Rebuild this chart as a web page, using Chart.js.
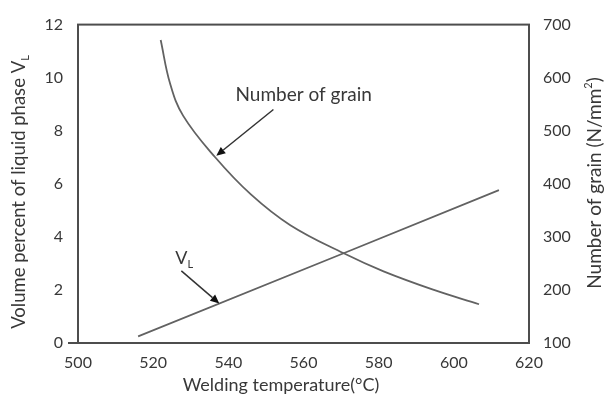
<!DOCTYPE html>
<html>
<head>
<meta charset="utf-8">
<script src="https://cdn.jsdelivr.net/npm/chart.js@4/dist/chart.umd.min.js"></script>
<style>
  html, body { margin: 0; padding: 0; background: #fff; }
  #wrap { width: 606px; height: 400px; }
</style>
</head>
<body>
<div id="wrap"><canvas id="chart" width="606" height="400"></canvas></div>
<script>
// Data
const vlTemps = [516, 571, 612];
const vlValues = [0.25, 3.4, 5.76];

const grainTemps = [522, 524.5, 528, 536.5, 546, 556.5, 570.7, 581.3, 594.7, 606.7];
const grainValues = [671, 589, 528, 450, 380, 322, 269, 235, 200, 173];

const xTicks = [500, 520, 540, 560, 580, 600, 620];
const leftTicks = [0, 2, 4, 6, 8, 10, 12];
const rightTicks = [100, 200, 300, 400, 500, 600, 700];

const textColor = '#383838';
const lineColor = '#626262';
const fontFamily = 'Lato, "Open Sans", sans-serif';

function toPoints(xs, ys) {
    return xs.map((x, i) => ({ x: x, y: ys[i] }));
}

// Arrow callouts, in data units (x = temperature, y on the named axis)
const callouts = [
    { axis: 'y2', text: 'Number of grain', size: 19, textX: 541.9, textY: 568, from: [552, 540], to: [536.8, 453] },
    { axis: 'y', text: 'V', sub: 'L', size: 18, textX: 525.9, textY: 3.19, from: [527.5, 2.72], to: [537.6, 1.49] }
];

function drawArrow(ctx, x1, y1, x2, y2) {
    const ang = Math.atan2(y2 - y1, x2 - x1);
    const head = 9, half = 4;
    ctx.beginPath();
    ctx.moveTo(x1, y1);
    ctx.lineTo(x2 - Math.cos(ang) * head, y2 - Math.sin(ang) * head);
    ctx.stroke();
    ctx.beginPath();
    ctx.moveTo(x2, y2);
    ctx.lineTo(x2 - Math.cos(ang) * head - Math.sin(ang) * half, y2 - Math.sin(ang) * head + Math.cos(ang) * half);
    ctx.lineTo(x2 - Math.cos(ang) * head + Math.sin(ang) * half, y2 - Math.sin(ang) * head - Math.cos(ang) * half);
    ctx.closePath();
    ctx.fill();
}

const decorPlugin = {
    id: 'decor',
    afterDatasetsDraw(chart) {
        const { ctx, chartArea: a, scales } = chart;
        ctx.save();

        // frame
        ctx.strokeStyle = '#4d4d4d';
        ctx.lineWidth = 2;
        ctx.strokeRect(a.left, a.top, a.right - a.left, a.bottom - a.top);
        ctx.beginPath();
        ctx.moveTo(a.left - 10, a.bottom);
        ctx.lineTo(a.left, a.bottom);
        ctx.stroke();

        // callouts
        ctx.strokeStyle = '#333';
        ctx.lineWidth = 1.5;
        callouts.forEach(c => {
            const ys = scales[c.axis];
            const x1 = scales.x.getPixelForValue(c.from[0]);
            const y1 = ys.getPixelForValue(c.from[1]);
            const x2 = scales.x.getPixelForValue(c.to[0]);
            const y2 = ys.getPixelForValue(c.to[1]);
            ctx.fillStyle = '#111';
            drawArrow(ctx, x1, y1, x2, y2);

            ctx.fillStyle = textColor;
            ctx.font = c.size + 'px ' + fontFamily;
            ctx.textAlign = 'left';
            ctx.textBaseline = 'middle';
            const tx = scales.x.getPixelForValue(c.textX);
            const ty = ys.getPixelForValue(c.textY);
            ctx.fillText(c.text, tx, ty);
            if (c.sub) {
                const w = ctx.measureText(c.text).width;
                ctx.font = '11px ' + fontFamily;
                ctx.fillText(c.sub, tx + w, ty + 6);
            }
        });

        // axis titles
        ctx.fillStyle = textColor;
        ctx.textBaseline = 'middle';
        ctx.textAlign = 'left';

        // left
        ctx.save();
        ctx.translate(19, 192);
        ctx.rotate(-Math.PI / 2);
        ctx.font = '18.5px ' + fontFamily;
        const main = 'Volume percent of liquid phase V';
        const w = ctx.measureText(main).width;
        ctx.font = '11px ' + fontFamily;
        const sw = ctx.measureText('L').width;
        let start = -(w + sw) / 2;
        ctx.font = '18.5px ' + fontFamily;
        ctx.fillText(main, start, 0);
        ctx.font = '11px ' + fontFamily;
        ctx.fillText('L', start + w, 6);
        ctx.restore();

        // right
        ctx.save();
        ctx.translate(595, 183);
        ctx.rotate(-Math.PI / 2);
        ctx.font = '19px ' + fontFamily;
        const p1 = 'Number of grain (N/mm', p2 = ')';
        const w1 = ctx.measureText(p1).width;
        const w2 = ctx.measureText(p2).width;
        ctx.font = '11px ' + fontFamily;
        const ws = ctx.measureText('2').width;
        start = -(w1 + ws + w2) / 2;
        ctx.font = '19px ' + fontFamily;
        ctx.fillText(p1, start, 0);
        ctx.font = '11px ' + fontFamily;
        ctx.fillText('2', start + w1, -7);
        ctx.font = '19px ' + fontFamily;
        ctx.fillText(p2, start + w1 + ws, 0);
        ctx.restore();

        // bottom
        ctx.font = '18px ' + fontFamily;
        ctx.textAlign = 'center';
        ctx.fillText('Welding temperature(\u00B0C)', 281, 385);

        ctx.restore();
    }
};

const tickFont = { family: fontFamily, size: 16 };

new Chart(document.getElementById('chart'), {
    type: 'line',
    data: {
        datasets: [
            {
                label: 'VL',
                data: toPoints(vlTemps, vlValues),
                yAxisID: 'y',
                borderColor: lineColor,
                borderWidth: 1.8,
                pointRadius: 0,
                tension: 0
            },
            {
                label: 'Number of grain',
                data: toPoints(grainTemps, grainValues),
                yAxisID: 'y2',
                borderColor: lineColor,
                borderWidth: 1.8,
                pointRadius: 0,
                tension: 0.4
            }
        ]
    },
    options: {
        responsive: false,
        animation: false,
        layout: { padding: { top: 12, left: 0, right: 0, bottom: 0 } },
        plugins: { legend: { display: false }, tooltip: { enabled: false } },
        scales: {
            x: {
                type: 'linear',
                min: xTicks[0],
                max: xTicks[xTicks.length - 1],
                afterBuildTicks: s => { s.ticks = xTicks.map(v => ({ value: v })); },
                afterFit: s => { s.height = 57; },
                grid: { display: false, drawTicks: false },
                border: { display: false },
                ticks: { color: textColor, font: tickFont, padding: 10, maxRotation: 0 }
            },
            y: {
                position: 'left',
                min: leftTicks[0],
                max: leftTicks[leftTicks.length - 1],
                afterBuildTicks: s => { s.ticks = leftTicks.map(v => ({ value: v })); },
                afterFit: s => { s.width = 78; },
                grid: { display: false, drawTicks: false },
                border: { display: false },
                ticks: { color: textColor, font: tickFont, padding: 15 }
            },
            y2: {
                position: 'right',
                min: rightTicks[0],
                max: rightTicks[rightTicks.length - 1],
                afterBuildTicks: s => { s.ticks = rightTicks.map(v => ({ value: v })); },
                afterFit: s => { s.width = 77; },
                grid: { display: false, drawTicks: false },
                border: { display: false },
                ticks: { color: textColor, font: tickFont, padding: 14 }
            }
        }
    },
    plugins: [decorPlugin]
});
</script>
</body>
</html>
